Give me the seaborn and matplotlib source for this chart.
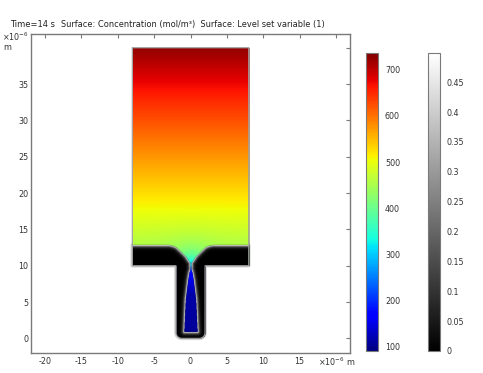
import numpy as np
import matplotlib
matplotlib.use("Agg")
import matplotlib.pyplot as plt
import seaborn as sns

sns.set_style("white")
plt.rcParams["font.family"] = ["DejaVu Sans"]
plt.rcParams["axes.unicode_minus"] = False

# ---------------- values ----------------
# vertical concentration profile in the upper chamber (mol/m^3)
conc_y = [10.0, 12.8, 17.1, 32.4, 40.0]
conc_v = [428, 455, 498, 646, 725]
# concentration dip at the neck (cusp)
neck_x, neck_y = 0.0, 10.3
neck_dip, neck_len = 125.0, 1.4
# concentration inside the channel (blue wedge)
chan_y = [0.9, 6.0, 9.0, 9.7, 10.3]
chan_c = [105, 115, 170, 230, 306]
# level-set interface in the upper chamber (left half, mirrored)
iface_x = [-8.0, -3.0, -2.5, -2.0, -1.4, -0.7, -0.23, 0.0]
iface_y = [12.85, 12.85, 12.75, 12.55, 12.0, 11.3, 10.6, 10.35]
# wedge of fluid in the channel: half width vs height
wedge_y = [0.9, 5.3, 8.0, 9.0, 9.7]
wedge_w = [0.9, 0.7, 0.37, 0.2, 0.0]
# geometry (um)
chamber = (-8.0, 8.0, 10.0, 40.0)
channel = (-2.0, 2.0, 0.0, 10.0)
corner_r = 0.8
# colour ranges
conc_range = (91, 736)
ls_range = (0.0, 0.499)
conc_ticks = [100, 200, 300, 400, 500, 600, 700]
ls_ticks = [0, 0.05, 0.1, 0.15, 0.2, 0.25, 0.3, 0.35, 0.4, 0.45]
x_ticks = [-20, -15, -10, -5, 0, 5, 10, 15, 20]
y_ticks = [0, 5, 10, 15, 20, 25, 30, 35, 40]
title_time = "Time=14 s"
title_rest = "Surface: Concentration (mol/m³)  Surface: Level set variable (1)"

# ---------------- fields ----------------
d = 0.04
xs = np.arange(-8.2, 8.2 + d / 2, d)
ys = np.arange(-0.2, 40.2 + d / 2, d)
X, Y = np.meshgrid(xs, ys)

cx0, cx1, cy0, cy1 = chamber
hx0, hx1, hy0, hy1 = channel
in_chamber = (X >= cx0) & (X <= cx1) & (Y >= cy0) & (Y <= cy1)
in_channel = (X >= hx0) & (X <= hx1) & (Y >= hy0) & (Y <= hy1)
ax_ = np.abs(X)
corner = (ax_ > hx1 - corner_r) & (Y < hy0 + corner_r)
outside_corner = corner & ((ax_ - (hx1 - corner_r)) ** 2 + (Y - (hy0 + corner_r)) ** 2 > corner_r ** 2)
domain = in_chamber | (in_channel & ~outside_corner)

full_x = np.array(iface_x + [-v for v in iface_x[-2::-1]])
full_y = np.array(iface_y + iface_y[-2::-1])
wy = np.array(wedge_y)
ww = np.array(wedge_w)
wedge_px = np.concatenate([-ww, ww[-2::-1]])
wedge_py = np.concatenate([wy, wy[-2::-1]])
wedge_px = np.append(wedge_px, wedge_px[0])
wedge_py = np.append(wedge_py, wedge_py[0])

fluid_up = Y > np.interp(X, full_x, full_y)
fluid_wedge = (Y >= wy[0]) & (Y <= wy[-1]) & (np.abs(X) < np.interp(Y, wy, ww))
fil_w = 0.06
fluid_fil = (Y >= wy[-1] - 0.3) & (Y <= full_y.min() + 0.2) & (np.abs(X) < fil_w)
fluid = fluid_up | fluid_wedge | fluid_fil


def seg_dist(px, py):
    out = np.full(X.shape, np.inf)
    for i in range(len(px) - 1):
        x0, y0, x1, y1 = px[i], py[i], px[i + 1], py[i + 1]
        vx, vy = x1 - x0, y1 - y0
        L2 = vx * vx + vy * vy
        if L2 == 0:
            continue
        t = np.clip(((X - x0) * vx + (Y - y0) * vy) / L2, 0, 1)
        dd = np.hypot(X - (x0 + t * vx), Y - (y0 + t * vy))
        out = np.minimum(out, dd)
    return out


dist = np.minimum(seg_dist(full_x, full_y), seg_dist(wedge_px, wedge_py))
dist = np.minimum(dist, np.where((Y >= wy[-1]) & (Y <= full_y.min()), np.abs(np.abs(X) - fil_w), np.inf))
s = np.where(fluid, dist, -dist)
eps = 0.3
phi = 0.5 * (1 + np.tanh(s / eps))

c_lin = np.interp(Y, conc_y, conc_v)
r = np.hypot(X - neck_x, Y - neck_y)
c_up = c_lin - neck_dip * np.exp(-r / neck_len)
c_ch = np.interp(Y, chan_y, chan_c)
conc = np.where(Y >= 10.0, c_up, c_ch)

conc_m = np.ma.masked_where(~domain, conc)
phi_m = np.ma.masked_where(~domain | (phi >= ls_range[1]), phi)

# ---------------- figure ----------------
W, H = 483, 373
fig = plt.figure(figsize=(W / 100, H / 100), dpi=100)
ax = fig.add_axes([31 / W, 20 / H, 319 / W, 319 / H])

jet = matplotlib.colormaps["jet"]
gray = matplotlib.colormaps["gray"]
ext = [xs[0] - d / 2, xs[-1] + d / 2, ys[0] - d / 2, ys[-1] + d / 2]
im1 = ax.imshow(conc_m, extent=ext, origin="lower", cmap=jet, vmin=conc_range[0], vmax=conc_range[1],
                interpolation="antialiased", interpolation_stage="rgba", aspect="auto", zorder=1)
im2 = ax.imshow(phi_m, extent=ext, origin="lower", cmap=gray, vmin=ls_range[0], vmax=ls_range[1],
                interpolation="antialiased", interpolation_stage="rgba", aspect="auto", zorder=2)

# domain outline
th = np.linspace(np.pi, 1.5 * np.pi, 12)
bl_x = (hx0 + corner_r) + corner_r * np.cos(th)
bl_y = (hy0 + corner_r) + corner_r * np.sin(th)
th2 = np.linspace(1.5 * np.pi, 2 * np.pi, 12)
br_x = (hx1 - corner_r) + corner_r * np.cos(th2)
br_y = (hy0 + corner_r) + corner_r * np.sin(th2)
ox = np.concatenate([[cx0, cx1, cx1, hx1], br_x[::-1], bl_x[::-1], [hx0, cx0, cx0]])
oy = np.concatenate([[cy1, cy1, cy0, cy0], br_y[::-1], bl_y[::-1], [cy0, cy0, cy1]])
band_top = iface_y[0]
gx = np.concatenate([[cx1, cx1, hx1], br_x[::-1], bl_x[::-1], [hx0, cx0, cx0]])
gy = np.concatenate([[band_top, cy0, cy0], br_y[::-1], bl_y[::-1], [cy0, cy0, band_top]])
ax.plot(gx, gy, color="#d4d4d4", lw=2.6, solid_joinstyle="round", zorder=0.5)
ax.plot(ox, oy, color="#a0a0a0", lw=0.8, solid_joinstyle="miter", zorder=3)

ax.set_xlim(-21.92, 21.92)
ax.set_ylim(-2.02, 41.9)
ax.set_xticks(x_ticks)
ax.set_yticks(y_ticks)
ax.set_xticklabels([str(v) for v in x_ticks[:-1]] + [""])
ax.set_yticklabels([str(v) for v in y_ticks[:-1]] + [""])
ax.tick_params(direction="in", top=True, right=True, length=3, width=0.8, color="#7a7a7a",
               labelsize=5.8, labelcolor="#333333")
ax.tick_params(axis="x", pad=3)
ax.tick_params(axis="y", pad=2)
for sp in ax.spines.values():
    sp.set_visible(True)
    sp.set_color("#7a7a7a")
    sp.set_linewidth(1.0)
    sp.set_zorder(5)

fs = 5.8
fig.text(10 / W, 1 - 27 / H, title_time, fontsize=6.0, color="#222222", va="baseline")
fig.text(61 / W, 1 - 27 / H, title_rest, fontsize=5.95, color="#222222", va="baseline")
fig.text(2 / W, 1 - 37 / H, r"$\times10^{-6}$", fontsize=fs, color="#333333", va="center")
fig.text(3 / W, 1 - 48 / H, "m", fontsize=fs, color="#333333", va="center")
fig.text(318 / W, 1 - 362 / H, r"$\times10^{-6}$ m", fontsize=fs, color="#333333", va="center")

# colorbars
cax1 = fig.add_axes([366 / W, 22 / H, 12 / W, 298 / H])
cb1 = fig.colorbar(im1, cax=cax1, ticks=conc_ticks)
cax2 = fig.add_axes([428 / W, 22 / H, 12 / W, 298 / H])
cb2 = fig.colorbar(im2, cax=cax2, ticks=ls_ticks)
cb2.ax.set_yticklabels([f"{v:g}" for v in ls_ticks])
for cb in (cb1, cb2):
    cb.outline.set_edgecolor("#7a7a7a")
    cb.outline.set_linewidth(0.8)
    cb.ax.tick_params(direction="in", left=True, right=True, length=2, width=0.6, color="#444444",
                      labelsize=fs, labelcolor="#333333", pad=5)

fig.savefig("out.png", dpi=100)
